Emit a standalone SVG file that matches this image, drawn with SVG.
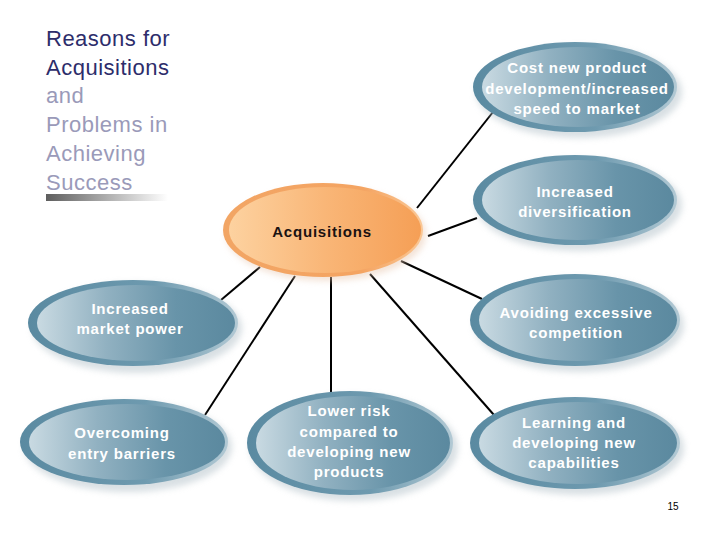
<svg xmlns="http://www.w3.org/2000/svg" width="720" height="540" viewBox="0 0 720 540">
<defs>
<linearGradient id="bRim" x1="0" y1="0" x2="1" y2="0">
<stop offset="0" stop-color="#5a8aa1"/>
<stop offset="0.6" stop-color="#6e9aaf"/>
<stop offset="1" stop-color="#b2c9d4"/>
</linearGradient>
<linearGradient id="bFill" x1="0" y1="0" x2="1" y2="0">
<stop offset="0" stop-color="#c9dae2"/>
<stop offset="0.35" stop-color="#91b1c1"/>
<stop offset="0.7" stop-color="#6894a9"/>
<stop offset="1" stop-color="#5b899f"/>
</linearGradient>
<linearGradient id="oRim" x1="0" y1="0" x2="1" y2="0">
<stop offset="0" stop-color="#f2a564"/>
<stop offset="0.7" stop-color="#f4a462"/>
<stop offset="1" stop-color="#fac896"/>
</linearGradient>
<linearGradient id="oFill" x1="0" y1="0" x2="1" y2="0">
<stop offset="0" stop-color="#fdd2a0"/>
<stop offset="0.5" stop-color="#f9b677"/>
<stop offset="1" stop-color="#f59f56"/>
</linearGradient>
<linearGradient id="bar" x1="0" y1="0" x2="1" y2="0">
<stop offset="0" stop-color="#5e5e5e"/>
<stop offset="1" stop-color="#ffffff"/>
</linearGradient>
<filter id="sh" x="-20%" y="-30%" width="140%" height="160%">
<feGaussianBlur stdDeviation="3"/>
</filter>
</defs>
<style>
.t1{font-family:"Liberation Sans",Arial,sans-serif;font-size:22px;letter-spacing:0.5px}
.dk{fill:#2d2d6b}
.lt{fill:#9a9ab9}
.nt{font-family:"Liberation Sans",Arial,sans-serif;font-size:15px;font-weight:bold;letter-spacing:0.8px;fill:#ffffff;text-anchor:middle}
.ot{font-family:"Liberation Sans",Arial,sans-serif;font-size:15px;font-weight:bold;letter-spacing:0.8px;fill:#1a1212;text-anchor:middle}
.shadow{fill:#b9c6cd;opacity:0.55;filter:url(#sh)}
.rim{fill:url(#bRim)}
.fill{fill:url(#bFill)}
.conn{stroke:#000;stroke-width:2;fill:none}
</style>
<rect width="720" height="540" fill="#ffffff"/>

<g id="title">
<text class="t1 dk" x="46" y="46">Reasons for</text>
<text class="t1 dk" x="46" y="75">Acquisitions</text>
<text class="t1 lt" x="46" y="103">and</text>
<text class="t1 lt" x="46" y="132">Problems in</text>
<text class="t1 lt" x="46" y="161">Achieving</text>
<text class="t1 lt" x="46" y="190">Success</text>
<rect x="46" y="194" width="122" height="7" fill="url(#bar)"/>
</g>

<g id="connectors">
<line class="conn" x1="417" y1="208" x2="493" y2="112"/>
<line class="conn" x1="428" y1="236" x2="477" y2="218"/>
<line class="conn" x1="401" y1="261" x2="482" y2="299"/>
<line class="conn" x1="370" y1="274" x2="494" y2="415"/>
<line class="conn" x1="331" y1="277" x2="331" y2="392"/>
<line class="conn" x1="295" y1="276" x2="205" y2="415"/>
<line class="conn" x1="260" y1="267" x2="221" y2="300"/>
</g>

<g id="acquisitions">
<ellipse cx="326" cy="234" rx="100" ry="47" fill="#e8c8b0" opacity="0.5" filter="url(#sh)"/>
<ellipse cx="323" cy="230" rx="100" ry="47" fill="url(#oRim)"/>
<ellipse cx="325" cy="230" rx="96" ry="43" fill="url(#oFill)"/>
<text class="ot" x="322" y="237">Acquisitions</text>
</g>

<g id="cost">
<ellipse class="shadow" cx="579" cy="92" rx="103" ry="46"/>
<ellipse class="rim" cx="575" cy="87" rx="102" ry="45"/>
<ellipse class="fill" cx="578" cy="87" rx="96" ry="40"/>
<text class="nt" x="577" y="73">Cost new product</text>
<text class="nt" x="577" y="94">development/increased</text>
<text class="nt" x="577" y="114">speed to market</text>
</g>

<g id="diversification">
<ellipse class="shadow" cx="579" cy="205" rx="103" ry="46"/>
<ellipse class="rim" cx="575" cy="200" rx="102" ry="45"/>
<ellipse class="fill" cx="578" cy="200" rx="96" ry="40"/>
<text class="nt" x="575" y="197">Increased</text>
<text class="nt" x="575" y="217">diversification</text>
</g>

<g id="market-power">
<ellipse class="shadow" cx="137" cy="328" rx="105" ry="45"/>
<ellipse class="rim" cx="133" cy="323" rx="105" ry="43"/>
<ellipse class="fill" cx="136" cy="323" rx="99" ry="38"/>
<text class="nt" x="130" y="314">Increased</text>
<text class="nt" x="130" y="334">market power</text>
</g>

<g id="avoiding">
<ellipse class="shadow" cx="579" cy="325" rx="105" ry="47"/>
<ellipse class="rim" cx="575" cy="320" rx="105" ry="46"/>
<ellipse class="fill" cx="578" cy="320" rx="99" ry="41"/>
<text class="nt" x="576" y="318">Avoiding excessive</text>
<text class="nt" x="576" y="338">competition</text>
</g>

<g id="overcoming">
<ellipse class="shadow" cx="128" cy="447" rx="104" ry="45"/>
<ellipse class="rim" cx="124" cy="442" rx="104" ry="43"/>
<ellipse class="fill" cx="127" cy="442" rx="98" ry="38"/>
<text class="nt" x="122" y="438">Overcoming</text>
<text class="nt" x="122" y="459">entry barriers</text>
</g>

<g id="lower-risk">
<ellipse class="shadow" cx="354" cy="448" rx="104" ry="53"/>
<ellipse class="rim" cx="350" cy="443" rx="103" ry="52"/>
<ellipse class="fill" cx="353" cy="443" rx="97" ry="47"/>
<text class="nt" x="349" y="416">Lower risk</text>
<text class="nt" x="349" y="437">compared to</text>
<text class="nt" x="349" y="457">developing new</text>
<text class="nt" x="349" y="477">products</text>
</g>

<g id="learning">
<ellipse class="shadow" cx="579" cy="448" rx="105" ry="47"/>
<ellipse class="rim" cx="575" cy="443" rx="105" ry="46"/>
<ellipse class="fill" cx="578" cy="443" rx="99" ry="41"/>
<text class="nt" x="574" y="428">Learning and</text>
<text class="nt" x="574" y="448">developing new</text>
<text class="nt" x="574" y="468">capabilities</text>
</g>

<text x="673" y="510" font-family="'Liberation Sans',Arial,sans-serif" font-size="10" text-anchor="middle" fill="#000">15</text>
</svg>
